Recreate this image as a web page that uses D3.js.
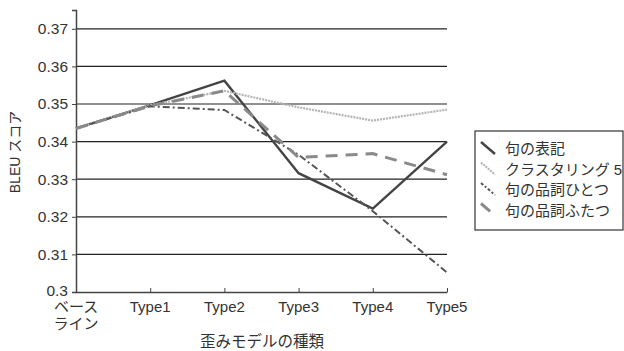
<!DOCTYPE html>
<html>
<head>
<meta charset="utf-8">
<script src="https://cdn.jsdelivr.net/npm/d3@7"></script>
<style>
  body { margin: 0; background: #fff; }
  text { font-family: "Liberation Sans", Arial, "Noto Sans CJK JP", sans-serif; fill: #333; }
</style>
</head>
<body>
<svg id="chart" width="624" height="351"></svg>
<script>
const categories = ["ベース\nライン", "Type1", "Type2", "Type3", "Type4", "Type5"];
const yTicks = [0.3, 0.31, 0.32, 0.33, 0.34, 0.35, 0.36, 0.37];

const seriesNames = ["句の表記", "クラスタリング 5", "句の品詞ひとつ", "句の品詞ふたつ"];
const hyoki   = [0.3435, 0.3497, 0.3562, 0.3316, 0.3222, 0.3400];
const cluster = [0.3435, 0.3497, 0.3535, 0.3491, 0.3456, 0.3485];
const hinshi1 = [0.3435, 0.3494, 0.3484, 0.3365, 0.3215, 0.3052];
const hinshi2 = [0.3435, 0.3495, 0.3535, 0.3358, 0.3368, 0.3312];

const seriesValues = [hyoki, cluster, hinshi1, hinshi2];
const styles = [
  { color: "#444", width: 2.4, dash: null, legendDash: null },
  { color: "#b4b4b4", width: 2.2, dash: "2,1", legendDash: "2,1" },
  { color: "#555", width: 2, dash: "7,3,2,3", legendDash: "3,2,2,2" },
  { color: "#8a8a8a", width: 3, dash: "12,8", legendDash: "12,8" }
];

const svg = d3.select("#chart");
const margin = { top: 10, right: 177, bottom: 59, left: 76 };
const width = +svg.attr("width");
const height = +svg.attr("height");

const x = d3.scalePoint()
  .domain(d3.range(categories.length))
  .range([margin.left, width - margin.right]);

const y = d3.scaleLinear()
  .domain([0.3, 0.375])
  .range([height - margin.bottom, margin.top]);

// gridlines
svg.append("g")
  .selectAll("line")
  .data(yTicks.filter(d => d > 0.3))
  .join("line")
  .attr("x1", margin.left)
  .attr("x2", width - margin.right)
  .attr("y1", d => y(d))
  .attr("y2", d => y(d))
  .attr("stroke", "#222")
  .attr("stroke-width", 1.2);

// y axis
const yAxis = svg.append("g")
  .attr("transform", `translate(${margin.left},0)`)
  .call(d3.axisLeft(y).tickValues(yTicks)
    .tickFormat(d => d === 0.3 ? "0.3" : d3.format(".2f")(d))
    .tickSize(4).tickPadding(4));
yAxis.select(".domain").attr("stroke", "#444").attr("stroke-width", 1.5);
yAxis.selectAll(".tick line").attr("stroke", "#444");
yAxis.selectAll(".tick text").attr("font-size", 15.5).attr("fill", "#333");
yAxis.selectAll(".tick text").filter(d => d === 0.3).attr("dy", "0.2em");

// x axis
const xAxis = svg.append("g")
  .attr("transform", `translate(0,${height - margin.bottom})`)
  .call(d3.axisBottom(x).tickSizeInner(-4).tickSizeOuter(0).tickFormat(""));
xAxis.select(".domain").attr("stroke", "#444").attr("stroke-width", 1.5);
xAxis.selectAll(".tick line").attr("stroke", "#444");

// x tick labels (multi-line)
svg.append("g")
  .selectAll("text")
  .data(categories)
  .join("text")
  .attr("text-anchor", "middle")
  .attr("font-size", 15)
  .attr("transform", (d, i) => `translate(${x(i)},${height - margin.bottom + 20})`)
  .selectAll("tspan")
  .data(d => d.split("\n"))
  .join("tspan")
  .attr("x", 0)
  .attr("dy", (d, i) => i === 0 ? 0 : 17)
  .text(d => d);

// lines
const line = d3.line()
  .x((d, i) => x(i))
  .y(d => y(d));

svg.append("g")
  .selectAll("path")
  .data(seriesValues)
  .join("path")
  .attr("d", d => line(d))
  .attr("fill", "none")
  .attr("stroke", (d, i) => styles[i].color)
  .attr("stroke-width", (d, i) => styles[i].width)
  .attr("stroke-dasharray", (d, i) => styles[i].dash);

// axis titles
svg.append("text")
  .attr("x", 262)
  .attr("y", 347)
  .attr("text-anchor", "middle")
  .attr("font-size", 15.5)
  .text("歪みモデルの種類");

svg.append("text")
  .attr("transform", "rotate(-90)")
  .attr("x", -152)
  .attr("y", 20)
  .attr("text-anchor", "middle")
  .attr("font-size", 14)
  .text("BLEU スコア");

// legend
const legend = svg.append("g").attr("transform", "translate(475,131)");
legend.append("rect")
  .attr("width", 148)
  .attr("height", 99)
  .attr("fill", "#fff")
  .attr("stroke", "#333")
  .attr("stroke-width", 1.2);

const item = legend.selectAll("g.item")
  .data(seriesNames)
  .join("g")
  .attr("class", "item")
  .attr("transform", (d, i) => `translate(0,${17 + i * 20.5})`);

item.append("line")
  .attr("x1", 6).attr("y1", -6)
  .attr("x2", 20).attr("y2", 6)
  .attr("stroke", (d, i) => styles[i].color)
  .attr("stroke-width", (d, i) => styles[i].width)
  .attr("stroke-dasharray", (d, i) => styles[i].legendDash);

item.append("text")
  .attr("x", 30)
  .attr("y", 6)
  .attr("font-size", 15)
  .text(d => d);
</script>
</body>
</html>
